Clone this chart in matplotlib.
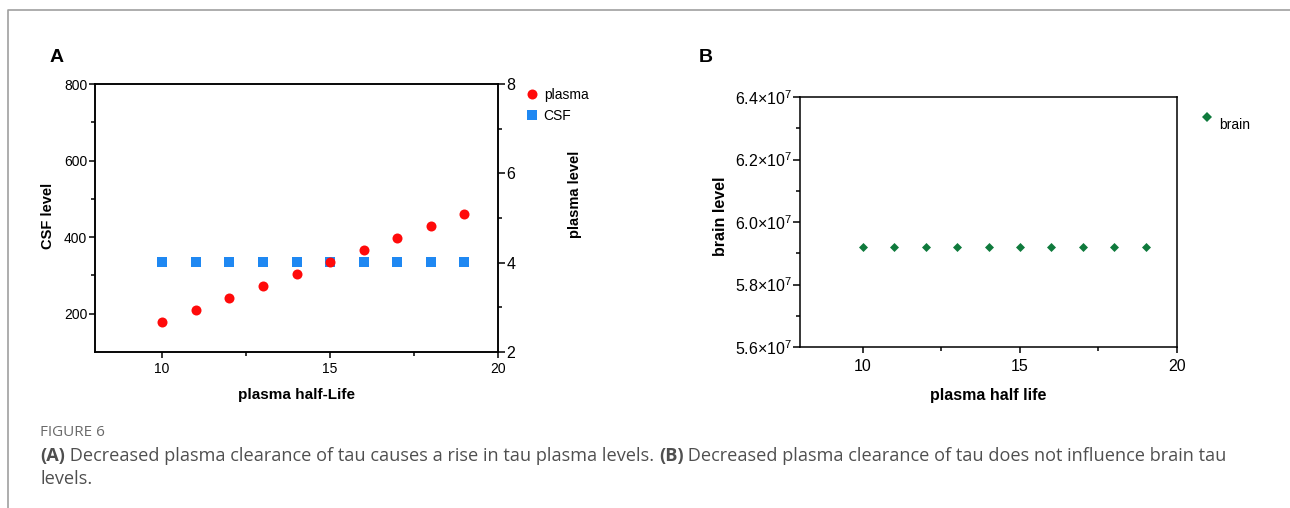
#!/usr/bin/env python3
"""Figure 6: plasma half-life vs CSF / plasma / brain tau levels."""

import matplotlib
matplotlib.use("Agg")
import matplotlib.pyplot as plt
from matplotlib.lines import Line2D
from matplotlib.ticker import FixedLocator, FuncFormatter
from matplotlib.transforms import ScaledTranslation

plt.rcParams["font.family"] = ["Liberation Sans", "DejaVu Sans"]
plt.rcParams["mathtext.fontset"] = "custom"
plt.rcParams["mathtext.rm"] = "Liberation Sans"
plt.rcParams["mathtext.it"] = "Liberation Sans"
plt.rcParams["mathtext.bf"] = "Liberation Sans:bold"

# data
half_life = [10, 11, 12, 13, 14, 15, 16, 17, 18, 19]
plasma_level = [2.67, 2.94, 3.21, 3.48, 3.75, 4.01, 4.28, 4.55, 4.81, 5.08]
csf_level = [335, 335, 335, 335, 335, 335, 335, 335, 335, 335]
brain_level = [5.92e7, 5.92e7, 5.92e7, 5.92e7, 5.92e7,
               5.92e7, 5.92e7, 5.92e7, 5.92e7, 5.92e7]

RED = "#ff0a0a"
BLUE = "#1f88f2"
GREEN = "#0f7a3c"
W, H = 1290, 508

fig = plt.figure(figsize=(W / 100, H / 100), dpi=100)


def px_box(left, top, right, bottom):
    return [left / W, 1 - bottom / H, (right - left) / W, (bottom - top) / H]


def style_axis(ax, lw=1.1):
    for s in ax.spines.values():
        s.set_linewidth(lw)
    ax.tick_params(which="both", direction="out", width=lw, color="black")
    ax.tick_params(which="major", length=4.5)
    ax.tick_params(which="minor", length=3)


# ---- panel A ----
axA = fig.add_axes(px_box(95, 84, 498, 352))
axA2 = axA.twinx()
style_axis(axA)
style_axis(axA2)

axA.scatter(half_life, csf_level, marker="s", s=52, color=BLUE, lw=0, label="CSF", zorder=3)
axA2.scatter(half_life, plasma_level, marker="o", s=52, color=RED, lw=0, label="plasma", zorder=3)

axA.set_xlim(8, 20)
axA.set_ylim(100, 800)
axA2.set_ylim(2, 8)
axA.xaxis.set_major_locator(FixedLocator([10, 15, 20]))
axA.xaxis.set_minor_locator(FixedLocator([12.5, 17.5]))
axA.yaxis.set_major_locator(FixedLocator([200, 400, 600, 800]))
axA.yaxis.set_minor_locator(FixedLocator([300, 500, 700]))
axA2.yaxis.set_major_locator(FixedLocator([2, 4, 6, 8]))
axA2.yaxis.set_minor_locator(FixedLocator([3, 5, 7]))
axA.tick_params(axis="y", labelsize=10, pad=1)
axA.tick_params(axis="x", labelsize=10, pad=3)
axA2.tick_params(axis="y", labelsize=11.5, pad=1, length=5)

axA.set_xlabel("plasma half-Life", fontsize=11, fontweight="bold")
axA.set_ylabel("CSF level", fontsize=10.5, fontweight="bold")
axA2.set_ylabel("plasma level", fontsize=10.5, fontweight="bold", rotation=90)
axA.xaxis.set_label_coords(0.501, -0.134)
axA.yaxis.set_label_coords(-0.099, 0.509)
axA2.yaxis.set_label_coords(1.174, 0.59)

hA = [
    Line2D([], [], ls="none", marker="o", ms=7.2, color=RED, mew=0),
    Line2D([], [], ls="none", marker="s", ms=7.2, color=BLUE, mew=0),
]
fig.legend(hA, ["plasma", "CSF"], loc="upper left",
           bbox_to_anchor=(525 / W, 1 - 88 / H), frameon=False,
           fontsize=10, handlelength=1.0, handletextpad=0.35,
           labelspacing=0.5, borderpad=0, borderaxespad=0)

fig.text(57 / W, 1 - 57 / H, "A", fontsize=14, fontweight="bold", ha="center", va="center")

# ---- panel B ----
axB = fig.add_axes(px_box(800, 97, 1177, 347))
style_axis(axB)
axB.scatter(half_life, brain_level, marker="D", s=21, color=GREEN, lw=0, label="brain", zorder=3)
axB.set_xlim(8, 20)
axB.set_ylim(5.6e7, 6.4e7)
axB.xaxis.set_major_locator(FixedLocator([10, 15, 20]))
axB.xaxis.set_minor_locator(FixedLocator([12.5, 17.5]))
axB.yaxis.set_major_locator(FixedLocator([5.6e7, 5.8e7, 6.0e7, 6.2e7, 6.4e7]))
axB.yaxis.set_minor_locator(FixedLocator([5.7e7, 5.9e7, 6.1e7, 6.3e7]))
axB.yaxis.set_major_formatter(FuncFormatter(lambda v, p: r"$%.1f{\times}10^{7}$" % (v / 1e7)))
axB.tick_params(axis="y", labelsize=11.5, pad=1, length=5)
axB.tick_params(axis="x", labelsize=11.5, pad=4)
axB.set_xlabel("plasma half life", fontsize=11.5, fontweight="bold")
axB.set_ylabel("brain level", fontsize=11.5, fontweight="bold")
axB.xaxis.set_label_coords(0.50, -0.164)
axB.yaxis.set_label_coords(-0.19, 0.524)

hB = [Line2D([], [], ls="none", marker="D", ms=4.6, color=GREEN, mew=0)]
legB = fig.legend(hB, ["brain"], loc="upper left",
                  bbox_to_anchor=(1200 / W, 1 - 118 / H), frameon=False,
                  fontsize=10, handlelength=1.0, handletextpad=0.4,
                  borderpad=0, borderaxespad=0)
# prism puts the key label a bit below its marker
key = legB.get_lines()[0]
key.set_transform(key.get_transform() + ScaledTranslation(0, 7 / 100, fig.dpi_scale_trans))

fig.text(706 / W, 1 - 57 / H, "B", fontsize=14, fontweight="bold", ha="center", va="center")

# ---- page frame + caption ----
fig.add_artist(Line2D([8 / W, 8 / W, 1], [0, 1 - 10 / H, 1 - 10 / H],
                      transform=fig.transFigure, color="#a0a0a0", lw=1.2))

cap_font = ["Open Sans", "DejaVu Sans"]
fig.text(40 / W, 1 - 433 / H, "FIGURE 6", fontsize=11, color="#6a6a6a",
         family=cap_font, va="center")

renderer = fig.canvas.get_renderer()


def caption_line(y, parts, x=40):
    xf = x / W
    for txt, weight in parts:
        t = fig.text(xf, 1 - y / H, txt, fontsize=13.1, color="#4f4f4f",
                     family=cap_font, fontweight=weight, va="center")
        bb = t.get_window_extent(renderer)
        xf = bb.x1 / W


caption_line(456, [
    ("(A)", "bold"),
    (" Decreased plasma clearance of tau causes a rise in tau plasma levels. ", "normal"),
    ("(B)", "bold"),
    (" Decreased plasma clearance of tau does not influence brain tau", "normal"),
])
caption_line(479, [("levels.", "normal")])

fig.savefig("out.png", dpi=100)
